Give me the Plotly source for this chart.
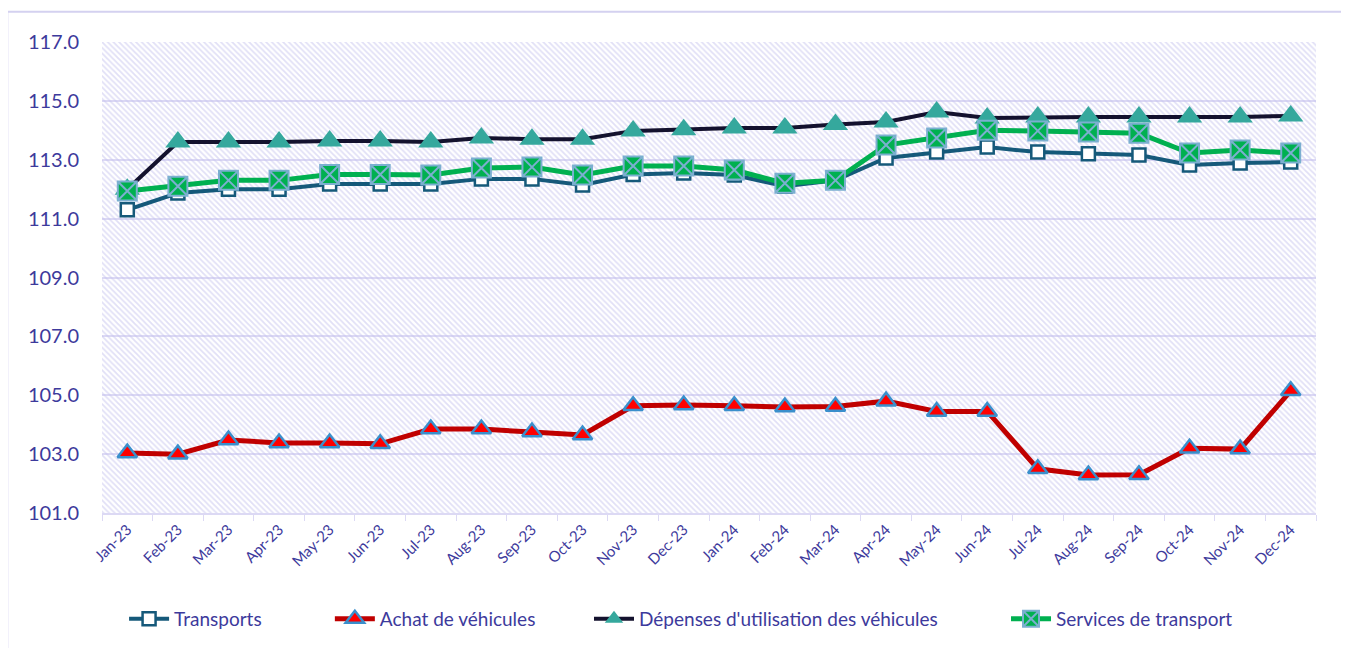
import plotly.graph_objects as go

months = ["Jan-23", "Feb-23", "Mar-23", "Apr-23", "May-23", "Jun-23", "Jul-23", "Aug-23",
          "Sep-23", "Oct-23", "Nov-23", "Dec-23", "Jan-24", "Feb-24", "Mar-24", "Apr-24",
          "May-24", "Jun-24", "Jul-24", "Aug-24", "Sep-24", "Oct-24", "Nov-24", "Dec-24"]

transports = [111.3, 111.87, 112.0, 112.0, 112.18, 112.18, 112.18, 112.35, 112.35, 112.14,
              112.5, 112.55, 112.48, 112.1, 112.3, 113.06, 113.26, 113.43, 113.26, 113.2,
              113.16, 112.82, 112.89, 112.92]
achat = [103.04, 103.0, 103.48, 103.38, 103.38, 103.35, 103.85, 103.85, 103.75, 103.65,
         104.64, 104.67, 104.64, 104.6, 104.62, 104.8, 104.45, 104.45, 102.5, 102.29,
         102.3, 103.2, 103.17, 105.15]
depenses = [112.0, 113.6, 113.6, 113.6, 113.64, 113.64, 113.6, 113.74, 113.7, 113.7,
            113.98, 114.02, 114.08, 114.08, 114.2, 114.28, 114.62, 114.42, 114.45, 114.45,
            114.45, 114.45, 114.45, 114.49]
services = [111.94, 112.1, 112.3, 112.3, 112.5, 112.5, 112.48, 112.72, 112.75, 112.48,
            112.79, 112.79, 112.65, 112.2, 112.3, 113.5, 113.74, 114.0, 113.98, 113.94,
            113.9, 113.23, 113.33, 113.23]

series_names = ["Transports", "Achat de véhicules",
                "Dépenses d'utilisation des véhicules", "Services de transport"]

y_min, y_max = 101, 117
y_ticks = [101, 103, 105, 107, 109, 111, 113, 115, 117]

label_color = "#3D3A9C"
grid_color = "#DCD9F4"
font_family = "Lato, 'Open Sans', sans-serif"
nb = "\u00a0"

fig = go.Figure()

# hatched plot background (on hidden linear base axis)
fig.add_trace(go.Scatter(
    x=[0, 1, 1, 0, 0], y=[y_min, y_min, y_max, y_max, y_min],
    xaxis="x", yaxis="y", mode="none", fill="toself",
    fillcolor="rgba(0,0,0,0)",
    fillpattern=dict(shape="\\", fgcolor="#C4C1EE", bgcolor="rgba(255,255,255,0)",
                     size=4, solidity=0.45),
    hoverinfo="skip", showlegend=False))

fig.add_trace(go.Scatter(
    x=months, y=transports, name=series_names[0] + nb * 13, xaxis="x2", yaxis="y",
    mode="lines+markers",
    line=dict(color="#15597A", width=4),
    marker=dict(symbol="square", size=13, color="white",
                line=dict(color="#15597A", width=2.5))))

fig.add_trace(go.Scatter(
    x=months, y=achat, name=series_names[1] + nb * 10, xaxis="x2", yaxis="y",
    mode="lines+markers",
    line=dict(color="#C00000", width=5),
    marker=dict(symbol="triangle-up", size=17, color="#FF0000",
                line=dict(color="#3A8FCC", width=2.5))))

fig.add_trace(go.Scatter(
    x=months, y=depenses, name=series_names[2] + nb * 13, xaxis="x2", yaxis="y",
    mode="lines+markers",
    line=dict(color="#14122E", width=4),
    marker=dict(symbol="triangle-up", size=22, color="#35A89D",
                line=dict(color="#35A89D", width=0))))

fig.add_trace(go.Scatter(
    x=months, y=services, name=series_names[3], xaxis="x2", yaxis="y",
    mode="lines+markers",
    line=dict(color="#00B050", width=5),
    marker=dict(symbol="square-x", size=19, color="#00B050",
                line=dict(color="#7BAFD0", width=2))))

fig.update_layout(
    width=1349, height=648,
    paper_bgcolor="white", plot_bgcolor="white",
    margin=dict(l=94, r=41, t=34, b=143),
    font=dict(family=font_family, color=label_color),
    xaxis=dict(range=[0, 1], visible=False, fixedrange=True),
    xaxis2=dict(type="category", overlaying="x", anchor="y", side="bottom",
                range=[-0.5, len(months) - 0.5],
                showgrid=False, tickangle=-45, tickson="boundaries",
                ticks="outside", ticklen=6, tickcolor=grid_color,
                showline=True, linecolor=grid_color, linewidth=2,
                tickfont=dict(size=15, color=label_color)),
    yaxis=dict(range=[y_min, y_max], tickvals=y_ticks, tickformat=".1f",
               showgrid=True, gridcolor=grid_color, gridwidth=2,
               zeroline=False, showline=False, ticks="",
               ticklabelstandoff=22,
               tickfont=dict(size=20, color=label_color)),
    legend=dict(orientation="h", x=0.477, xanchor="center", y=-0.225, yanchor="middle",
                font=dict(size=19, color=label_color), bgcolor="rgba(0,0,0,0)",
                itemwidth=40),
    shapes=[dict(type="rect", xref="paper", yref="paper",
                 x0=-0.078, x1=1.024, y0=-0.30, y1=1.064,
                 line=dict(color="#D4D1F0", width=2), fillcolor="rgba(0,0,0,0)",
                 layer="below")],
)

fig.write_html("out.html")
